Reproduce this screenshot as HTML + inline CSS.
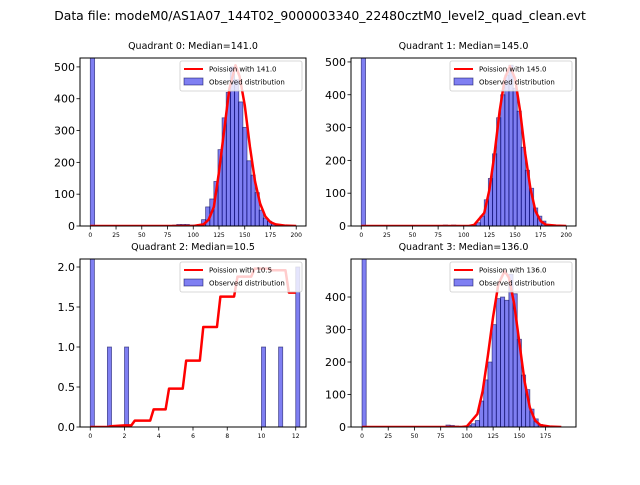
<!DOCTYPE html>
<html><head><meta charset="utf-8"><style>
body{margin:0;background:#fff;font-family:"Liberation Sans","DejaVu Sans",sans-serif}
svg text{font-family:"DejaVu Sans","Liberation Sans",sans-serif}
</style></head><body>
<svg id="c" width="640" height="480" xmlns="http://www.w3.org/2000/svg">
<rect width="640" height="480" fill="#fff"/>
<text x="320" y="20" font-size="12.4" text-anchor="middle">Data file: modeM0/AS1A07_144T02_9000003340_22480cztM0_level2_quad_clean.evt</text>
</svg>
<script>
// Quadrant 0
const q0BinStarts=[0,80,84,88,92,96,100,104,108,112,116,120,124,128,132,136,140,144,148,152,156,160,164,168,172,176,180];
const q0Counts=[560,3,5,5,5,3,2,5,20,60,85,140,240,340,420,500,460,390,310,205,160,105,50,25,15,8,3];
const q0CurveX=[0,100,110,115,120,125,130,135,141,145,150,155,160,165,170,175,180,190,200];
const q0CurveY=[0,0,5,20,60,170,300,430,505,470,380,250,140,70,30,12,5,1,0];
// Quadrant 1
const q1BinStarts=[0,80,84,88,92,96,100,104,108,112,116,120,124,128,132,136,140,144,148,152,156,160,164,168,172,176,180];
const q1Counts=[560,3,1,3,2,1,1,2,4,10,30,80,145,220,330,400,460,490,420,350,240,170,115,55,30,15,5];
const q1CurveX=[0,105,110,120,125,130,135,140,145,150,155,160,165,170,175,180,190,200];
const q1CurveY=[0,0,3,40,110,220,350,450,487,450,350,220,115,45,15,4,1,0];
// Quadrant 2
const q2BinStarts=[0,1,2,10,11,12];
const q2Counts=[2.3,1,1,1,1,2];
const q2CurveX=[0,1,1.2,2,2.4,2.6,3.5,3.7,4.4,4.6,5.4,5.6,6.4,6.6,7.4,7.6,8.4,8.6,9.4,9.6,10.4,10.6,11.4,11.6,12];
const q2CurveY=[0,0,0.01,0.02,0.02,0.08,0.08,0.22,0.22,0.48,0.48,0.83,0.83,1.25,1.25,1.63,1.63,1.88,1.88,1.98,1.98,1.96,1.96,1.68,1.68];
// Quadrant 3
const q3BinStarts=[0,80,84,88,92,96,100,104,108,112,116,120,124,128,132,136,140,144,148,152,156,160,164,168];
const q3Counts=[560,6,5,3,2,2,5,10,20,80,145,200,315,395,400,390,470,410,270,160,115,55,25,8];
const q3CurveX=[0,95,100,110,115,120,125,130,136,140,145,150,155,160,165,170,180,190];
const q3CurveY=[0,0,2,40,110,220,340,440,480,460,380,260,140,60,20,6,1,0];

const q0XTicks=[0,25,50,75,100,125,150,175,200], q0YTicks=[0,100,200,300,400,500];
const q1XTicks=[0,25,50,75,100,125,150,175,200], q1YTicks=[0,100,200,300,400,500];
const q2XTicks=[0,2,4,6,8,10,12], q2YTicks=[0,0.5,1.0,1.5,2.0];
const q3XTicks=[0,25,50,75,100,125,150,175], q3YTicks=[0,100,200,300,400];

const svg=document.getElementById('c');
const NS='http://www.w3.org/2000/svg';
function mk(t,a,p){const e=document.createElementNS(NS,t);for(const k in a)e.setAttribute(k,a[k]);(p||svg).appendChild(e);return e;}

function panel(id,title,box,xlim,ylim,bins,counts,bw,cx,cy,xt,yt,yfmt,label){
  const g=mk('g',{});
  
  
  const [L,T,R,B]=box;
  const sx=v=>L+(v-xlim[0])/(xlim[1]-xlim[0])*(R-L);
  const sy=v=>B-(v-ylim[0])/(ylim[1]-ylim[0])*(B-T);
  const cp=mk('clipPath',{id:'cp'+id},g);mk('rect',{x:L,y:T,width:R-L,height:B-T},cp);
  const bars=mk('g',{'clip-path':'url(#cp'+id+')'},g);
  for(let i=0;i<bins.length;i++){
    const x0=sx(bins[i]),x1=sx(bins[i]+bw),y=sy(counts[i]);
    const r=mk('rect',{x:x0,y:y,width:x1-x0,height:B-y,fill:'rgba(0,0,230,0.5)',stroke:'rgba(0,0,80,0.6)','stroke-width':0.8},bars);
    
    
  }
  const pts=cx.map((v,i)=>sx(v)+','+sy(cy[i])).join(' ');
  const pl=mk('polyline',{points:pts,fill:'none',stroke:'#f00','stroke-width':2.5,'stroke-linejoin':'round'},bars);
  
  
  mk('rect',{x:L,y:T,width:R-L,height:B-T,fill:'none',stroke:'#000','stroke-width':1},g);
  xt.forEach(v=>{const x=sx(v);mk('line',{x1:x,x2:x,y1:B,y2:B+3.5,stroke:'#000','stroke-width':0.8},g);
    const t=mk('text',{x:x,y:B+11,'font-size':6,'text-anchor':'middle'},g);t.textContent=v;
    });
  yt.forEach(v=>{const y=sy(v);mk('line',{x1:L-3.5,x2:L,y1:y,y2:y,stroke:'#000','stroke-width':0.8},g);
    const t=mk('text',{x:L-5,y:y+4,'font-size':11,'text-anchor':'end'},g);t.textContent=yfmt(v);
    });
  const tt=mk('text',{x:(L+R)/2,y:T-9,'font-size':9.5,'text-anchor':'middle'},g);tt.textContent=title;
  
  const lg=mk('g',{},g);
  
  
  const lx=R-126,ly=T+3;
  mk('rect',{x:lx,y:ly,width:122,height:30,fill:'rgba(255,255,255,0.8)',stroke:'#ccc','stroke-width':0.8,rx:2},lg);
  mk('line',{x1:lx+4,x2:lx+23,y1:ly+8,y2:ly+8,stroke:'#f00','stroke-width':2},lg);
  const t1=mk('text',{x:lx+29,y:ly+10.5,'font-size':7},lg);t1.textContent='Poission with '+label;
  mk('rect',{x:lx+4,y:ly+17,width:19,height:7,fill:'rgba(0,0,230,0.5)',stroke:'rgba(0,0,80,0.6)','stroke-width':0.8},lg);
  const t2=mk('text',{x:lx+29,y:ly+23.5,'font-size':7},lg);t2.textContent='Observed distribution';
}
const f0=v=>String(v), f1=v=>v.toFixed(1);
panel(0,'Quadrant 0: Median=141.0',[80,58,306,226],[-10,209.5],[0,528],q0BinStarts,q0Counts,4.2,q0CurveX,q0CurveY,q0XTicks,q0YTicks,f0,'141.0');
panel(1,'Quadrant 1: Median=145.0',[351,58,576,226],[-10,209.5],[0,512],q1BinStarts,q1Counts,4.2,q1CurveX,q1CurveY,q1XTicks,q1YTicks,f0,'145.0');
panel(2,'Quadrant 2: Median=10.5',[80,259,306,427],[-0.6,12.6],[0,2.1],q2BinStarts,q2Counts,0.24,q2CurveX,q2CurveY,q2XTicks,q2YTicks,f1,'10.5');
panel(3,'Quadrant 3: Median=136.0',[351,259,576,427],[-10.5,204],[0,517],q3BinStarts,q3Counts,4,q3CurveX,q3CurveY,q3XTicks,q3YTicks,f0,'136.0');
</script>
</body></html>
